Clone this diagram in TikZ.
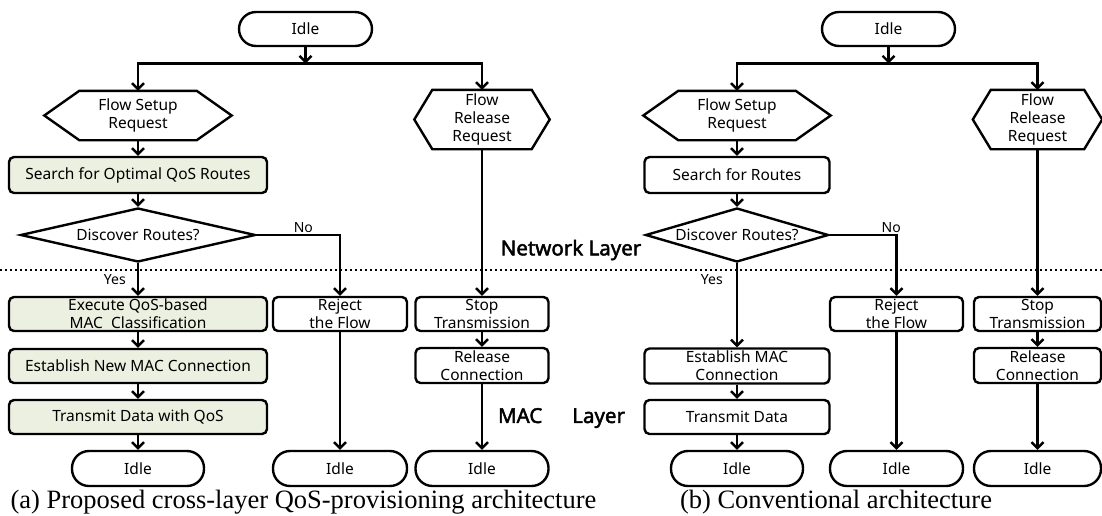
\documentclass[tikz,border=0pt]{standalone}
\usepackage{fontspec}
\setmainfont{Liberation Serif}
\setsansfont{Noto Sans}
\newfontfamily\layerfont{Noto Sans}[AutoFakeBold=2.2]
\usetikzlibrary{shapes.geometric,arrows.meta}
\definecolor{qosfill}{RGB}{236, 240, 224}
% hexagon round a named node: node name, cut of the points
\newcommand{\reqshape}[2]{%
    \draw (#1.west) -- ([xshift=#2]#1.north west) -- ([xshift=-#2]#1.north east)
        -- (#1.east) -- ([xshift=-#2]#1.south east) -- ([xshift=#2]#1.south west) -- cycle;}

\begin{document}
\begin{tikzpicture}[
        x=1pt, y=-1pt,
        line width=2.4pt,
        every node/.style={align=center, line width=2.4pt,
            font=\sffamily\fontsize{15.5}{18}\selectfont},
        arr/.style={-{Straight Barb[length=6pt, width=12pt]}},
        idle/.style={draw, rounded corners=17pt, minimum width=133pt, minimum height=35pt},
        proc/.style={draw, rounded corners=5pt, inner sep=0pt},
        qos/.style={proc, fill=qosfill},
        req/.style={inner sep=0pt},
        cond/.style={draw, diamond, aspect=4, inner sep=0pt},
        yn/.style={font=\sffamily\fontsize{14}{16}\selectfont, inner sep=1pt},
        layer/.style={font=\layerfont\bfseries\fontsize{20.5}{22}\selectfont},
        layerline/.style={line width=1.8pt, dash pattern=on 2pt off 3pt},
        caption/.style={font=\rmfamily\fontsize{26.5}{30}\selectfont}
    ]
    \useasboundingbox (0,0) rectangle (1102,515);

    % (a) proposed architecture
    \node[idle, minimum height=34pt] (idleA) at (305.5,29) {Idle};
    \coordinate (splitA) at (305.5,63.5);
    \node[req, minimum width=185pt, minimum height=47pt] (setupA) at (138,115.5) {Flow Setup\\Request};
    \node[req, minimum width=133pt, minimum height=57pt] (releaseA) at (482,119.5) {Flow\\Release\\Request};
    \reqshape{setupA}{35pt}
    \reqshape{releaseA}{18pt}
    \node[qos, minimum width=258pt, minimum height=36pt] (searchA) at (138,175) {Search for Optimal QoS Routes};
    \node[cond, minimum width=235pt, minimum height=54pt] (discA) at (138,235) {Discover Routes?};
    \node[qos, minimum width=258pt, minimum height=34pt] (execA) at (138,314) {Execute QoS-based\\MAC\ \ Classification};
    \node[qos, minimum width=258pt, minimum height=34pt] (estA) at (138,366) {Establish New MAC Connection};
    \node[qos, minimum width=258pt, minimum height=34pt] (sendA) at (138,417) {Transmit Data with QoS};
    \node[idle, minimum width=132pt] (endA1) at (138,468.5) {Idle};
    \node[proc, minimum width=134pt, minimum height=34pt] (rejectA) at (340,314) {Reject\\the Flow};
    \node[idle, minimum width=134pt] (endA2) at (340,468.5) {Idle};
    \node[proc, minimum width=133pt, minimum height=34pt] (stopA) at (482,314) {Stop\\Transmission};
    \node[proc, minimum width=133pt, minimum height=35pt] (relconA) at (482,365.5) {Release\\Connection};
    \node[idle] (endA3) at (482,468.5) {Idle};

    \draw[arr] (idleA.south) -- (splitA);
    \draw[arr] (splitA) -| (setupA.north);
    \draw[arr] (splitA) -| (releaseA.north);
    \draw[arr] (setupA.south) -- (searchA.north);
    \draw[arr] (searchA.south) -- (discA.north);
    \draw[arr] (discA.east) -| node[yn, above, pos=0.28] {No} (rejectA.north);
    \draw[arr] (discA.south) -- node[yn, left=10pt, pos=0.5] {Yes} (execA.north);
    \draw[arr] (execA.south) -- (estA.north);
    \draw[arr] (estA.south) -- (sendA.north);
    \draw[arr] (sendA.south) -- (endA1.north);
    \draw[arr] (rejectA.south) -- (endA2.north);
    \draw[arr] (releaseA.south) -- (stopA.north);
    \draw[arr] (stopA.south) -- (relconA.north);
    \draw[arr] (relconA.south) -- (endA3.north);

    % (b) conventional architecture
    \node[idle, minimum height=34pt] (idleB) at (888.5,29) {Idle};
    \coordinate (splitB) at (888.5,63.5);
    \node[req, minimum width=185pt, minimum height=47pt] (setupB) at (737,115.5) {Flow Setup\\Request};
    \node[req, minimum width=127pt, minimum height=57pt] (releaseB) at (1037.5,119.5) {Flow\\Release\\Request};
    \reqshape{setupB}{35pt}
    \reqshape{releaseB}{18pt}
    \node[proc, minimum width=185pt, minimum height=36pt] (searchB) at (737,175) {Search for Routes};
    \node[cond, minimum width=183pt, minimum height=54pt] (discB) at (737,235) {Discover Routes?};
    \node[proc, minimum width=185pt, minimum height=35pt] (estB) at (737,366) {Establish MAC\\Connection};
    \node[proc, minimum width=185pt, minimum height=34pt] (sendB) at (737,417) {Transmit Data};
    \node[idle, minimum width=132pt] (endB1) at (737,468.5) {Idle};
    \node[proc, minimum width=133pt, minimum height=34pt] (rejectB) at (896.5,314) {Reject\\the Flow};
    \node[idle] (endB2) at (896.5,468.5) {Idle};
    \node[proc, minimum width=127pt, minimum height=34pt] (stopB) at (1037.5,314) {Stop\\Transmission};
    \node[proc, minimum width=127pt, minimum height=35pt] (relconB) at (1037.5,365.5) {Release\\Connection};
    \node[idle, minimum width=127pt] (endB3) at (1037.5,468.5) {Idle};

    \draw[arr] (idleB.south) -- (splitB);
    \draw[arr] (splitB) -| (setupB.north);
    \draw[arr] (splitB) -| (releaseB.north);
    \draw[arr] (setupB.south) -- (searchB.north);
    \draw[arr] (searchB.south) -- (discB.north);
    \draw[arr] (discB.east) -| node[yn, above, pos=0.46] {No} (rejectB.north);
    \draw[arr] (discB.south) -- node[yn, left=12pt, pos=0.2] {Yes} (estB.north);
    \draw[arr] (estB.south) -- (sendB.north);
    \draw[arr] (sendB.south) -- (endB1.north);
    \draw[arr] (rejectB.south) -- (endB2.north);
    \draw[arr] (releaseB.south) -- (stopB.north);
    \draw[arr] (stopB.south) -- (relconB.north);
    \draw[arr] (relconB.south) -- (endB3.north);

    % layer border
    \coordinate (borderL) at (0,270);
    \coordinate (borderR) at (1102,270);
    \draw[layerline] (borderL) -- (borderR);
    \node[layer] (netlayer) at (571,250) {Network\ Layer};
    \node[layer] (maclayer) at (561.5,418) {MAC\hspace{30pt}Layer};

    % captions
    \node[caption] (capA) at (303.5,502) {(a) Proposed cross-layer QoS-provisioning architecture};
    \node[caption] (capB) at (836,502) {(b) Conventional architecture};
\end{tikzpicture}
\end{document}
